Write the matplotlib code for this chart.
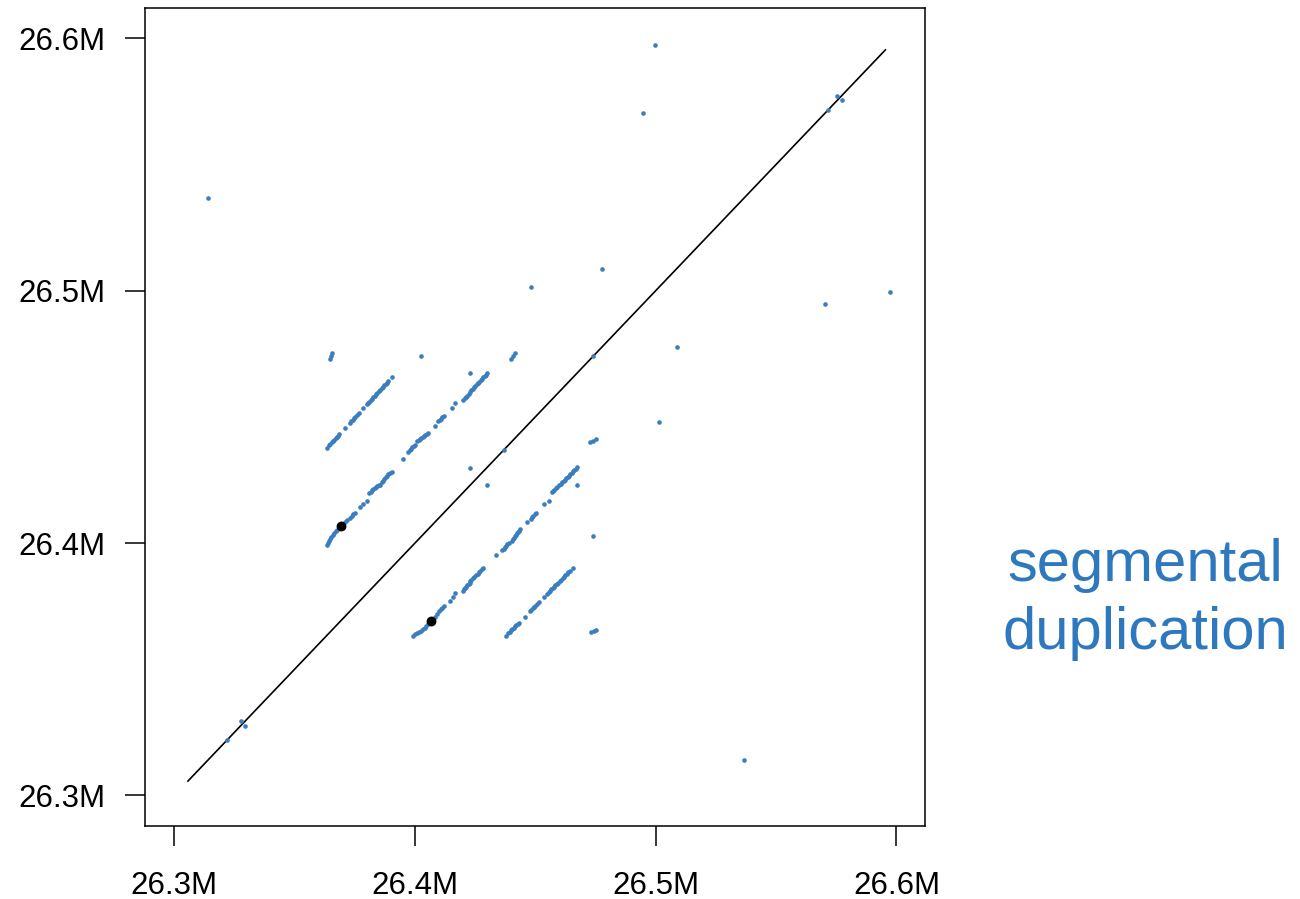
import numpy as np
import matplotlib.pyplot as plt
from matplotlib.ticker import FuncFormatter

plt.rcParams.update({'font.family': ['Liberation Sans', 'DejaVu Sans'], 'font.size': 22.5})

# self-alignment hits (Mb): each pair (a, b) is drawn at (a, b) and (b, a)
# block 1: upper-left run
seg1_a = [26.3633, 26.3644, 26.3649, 26.3654, 26.3659, 26.3665, 26.3670, 26.3675, 26.3680, 26.3685,
          26.3709, 26.3730, 26.3735, 26.3741, 26.3746, 26.3752, 26.3758, 26.3768, 26.3785, 26.3799,
          26.3805, 26.3810, 26.3816, 26.3821, 26.3827, 26.3832, 26.3838, 26.3843, 26.3849, 26.3854,
          26.3862, 26.3867, 26.3872, 26.3878, 26.3884, 26.3889, 26.3903]
seg1_b = [26.4377, 26.4388, 26.4393, 26.4399, 26.4404, 26.4410, 26.4415, 26.4420, 26.4426, 26.4431,
          26.4456, 26.4477, 26.4483, 26.4489, 26.4494, 26.4500, 26.4506, 26.4517, 26.4534, 26.4549,
          26.4555, 26.4560, 26.4566, 26.4572, 26.4577, 26.4583, 26.4589, 26.4595, 26.4601, 26.4606,
          26.4614, 26.4619, 26.4625, 26.4631, 26.4636, 26.4642, 26.4657]
# block 2: lower-left run
seg2_a = [26.3633, 26.3638, 26.3643, 26.3647, 26.3653, 26.3659, 26.3665, 26.3672, 26.3678, 26.3684,
          26.3699, 26.3709, 26.3717, 26.3730, 26.3738, 26.3744, 26.3751, 26.3771, 26.3785, 26.3802,
          26.3810, 26.3816, 26.3821, 26.3827, 26.3832, 26.3838, 26.3843, 26.3849, 26.3854, 26.3862,
          26.3867, 26.3872, 26.3878, 26.3884, 26.3889, 26.3896, 26.3903]
seg2_b = [26.3991, 26.4002, 26.4009, 26.4017, 26.4025, 26.4033, 26.4041, 26.4047, 26.4053, 26.4059,
          26.4073, 26.4082, 26.4091, 26.4098, 26.4108, 26.4114, 26.4120, 26.4144, 26.4156, 26.4168,
          26.4198, 26.4203, 26.4209, 26.4213, 26.4218, 26.4223, 26.4227, 26.4229, 26.4231, 26.4240,
          26.4247, 26.4254, 26.4260, 26.4267, 26.4272, 26.4278, 26.4281]
# block 3: middle run
seg3_a = [26.3952, 26.3972, 26.3978, 26.3984, 26.3989, 26.3995, 26.4000, 26.4010, 26.4016, 26.4021,
          26.4026, 26.4032, 26.4038, 26.4043, 26.4049, 26.4055, 26.4083, 26.4097, 26.4103, 26.4108,
          26.4114, 26.4119, 26.4154, 26.4166, 26.4201, 26.4207, 26.4212, 26.4217, 26.4223, 26.4229,
          26.4234, 26.4240, 26.4245, 26.4251, 26.4257, 26.4262, 26.4267, 26.4273, 26.4279, 26.4284,
          26.4290, 26.4295, 26.4301]
seg3_b = [26.4335, 26.4362, 26.4368, 26.4374, 26.4379, 26.4384, 26.4390, 26.4403, 26.4407, 26.4412,
          26.4417, 26.4421, 26.4425, 26.4429, 26.4433, 26.4436, 26.4465, 26.4482, 26.4487, 26.4492,
          26.4498, 26.4503, 26.4535, 26.4555, 26.4568, 26.4573, 26.4578, 26.4584, 26.4589, 26.4598,
          26.4606, 26.4612, 26.4618, 26.4623, 26.4629, 26.4635, 26.4640, 26.4646, 26.4651, 26.4656,
          26.4662, 26.4667, 26.4673]
# scattered single hits
single_a = [26.4996, 26.4946, 26.3142, 26.4778, 26.4481, 26.4026, 26.3646, 26.3652, 26.3657,
            26.4399, 26.4406, 26.4414, 26.4229, 26.4229, 26.3277, 26.5755]
single_b = [26.5972, 26.5705, 26.5368, 26.5087, 26.5014, 26.4741, 26.4731, 26.4742, 26.4752,
            26.4729, 26.4741, 26.4752, 26.4673, 26.4299, 26.3293, 26.5772]
# hits on the diagonal
diag_pos = [26.3220, 26.4370, 26.4740, 26.5714]
# highlighted pair
mark_a = [26.3692]
mark_b = [26.4066]
# identity line
ident = [26.3057, 26.5954]

hit_a = np.concatenate([seg1_a, seg2_a, seg3_a, single_a])
hit_b = np.concatenate([seg1_b, seg2_b, seg3_b, single_b])

blue = '#3a7ebf'
fig = plt.figure(figsize=(13, 8.99), dpi=100)
ax = fig.add_axes([0.1118, 0.0815, 0.6, 0.9096])

ax.plot(ident, ident, color='black', lw=1.2, zorder=1)
ax.scatter(np.concatenate([hit_a, hit_b, diag_pos]), np.concatenate([hit_b, hit_a, diag_pos]),
           s=11, color=blue, linewidths=0, zorder=2)
ax.scatter(mark_a + mark_b, mark_b + mark_a, s=50, color='black', linewidths=0, zorder=3)

ax.set_xlim(26.288, 26.612)
ax.set_ylim(26.288, 26.612)
ticks = [26.3, 26.4, 26.5, 26.6]
ax.set_xticks(ticks)
ax.set_yticks(ticks)
fmt = FuncFormatter(lambda v, p: f"{v:.1f}M")
ax.xaxis.set_major_formatter(fmt)
ax.yaxis.set_major_formatter(fmt)
ax.tick_params(direction='out', length=14.4, width=1.1, pad=14, labelsize=22.5)
ax.tick_params(axis='x', pad=18)
for s in ax.spines.values():
    s.set_linewidth(1.1)

fig.text(0.8808, 0.333, 'segmental\nduplication', color='#2e78be', fontsize=43,
         ha='center', va='center', multialignment='center', linespacing=1.3)

fig.savefig('out.png', dpi=100)
